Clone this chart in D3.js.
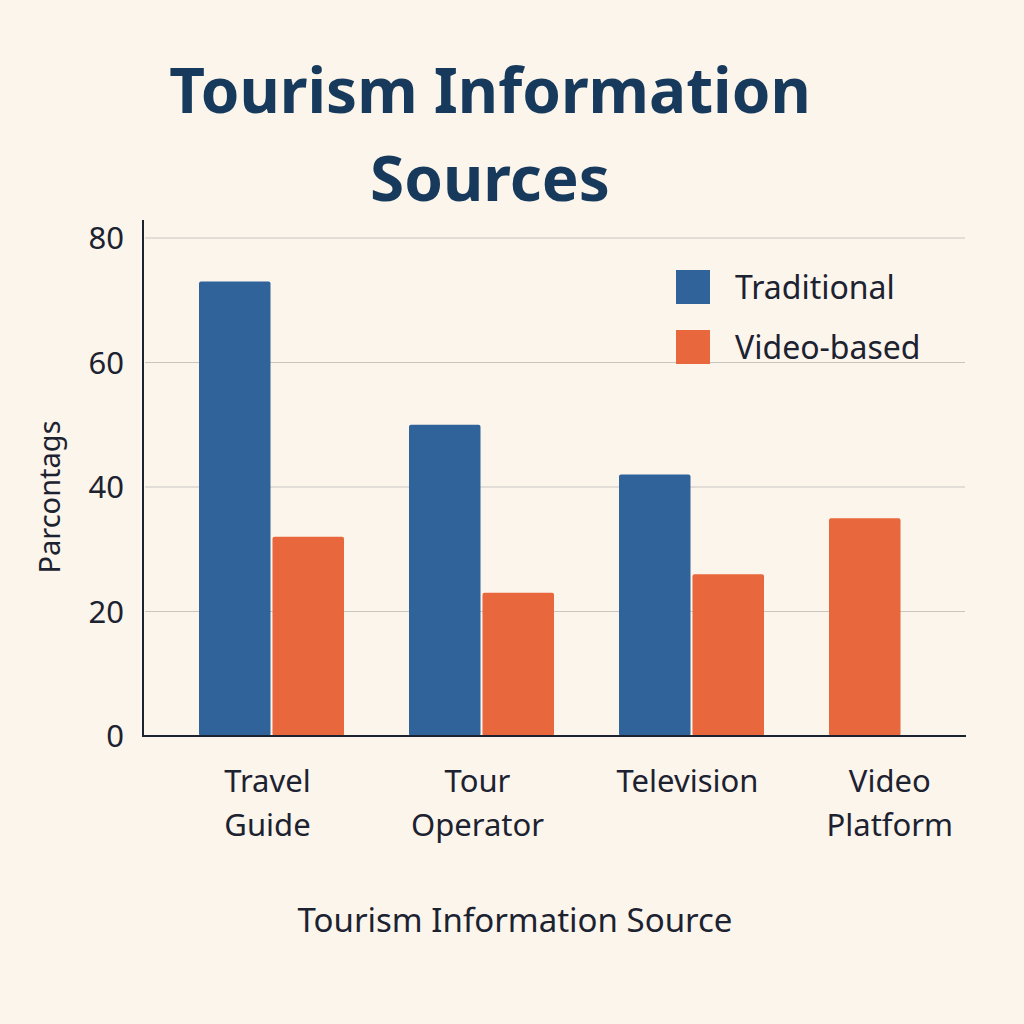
<!DOCTYPE html>
<html><head><meta charset="utf-8">
<script src="https://cdn.jsdelivr.net/npm/d3@7"></script>
<style>body{margin:0;background:#fbf5ec}</style>
</head><body>
<svg id="c" width="1024" height="1024"></svg>
<script>
var categories = [["Travel", "Guide"], ["Tour", "Operator"], ["Television"], ["Video", "Platform"]];
var traditional = [73, 50, 42, null];
var videoBased = [32, 23, 26, 35];
var yTicks = [0, 20, 40, 60, 80];

var svg = d3.select("#c");
var font = "'Noto Sans', 'Open Sans', sans-serif";
svg.append("rect").attr("width", 1024).attr("height", 1024).attr("fill", "#fbf5ec");

var y = d3.scaleLinear().domain([0, 80]).range([736, 238]);
var x = d3.scaleBand().domain(d3.range(4)).range([166.5, 1006.5]).paddingInner(0.3).paddingOuter(0.15);
var sub = d3.scaleBand().domain([0, 1]).range([0, x.bandwidth()]);

// title
svg.selectAll(".t").data(["Tourism Information", "Sources"]).enter().append("text")
  .attr("x", 490).attr("y", function(d, i) { return 113 + i * 88; })
  .attr("text-anchor", "middle").attr("font-family", font).attr("font-weight", "bold")
  .attr("font-size", 62).attr("fill", "#173a5c").text(function(d) { return d; });

// grid
svg.selectAll(".g").data(yTicks.slice(1)).enter().append("line")
  .attr("x1", 145).attr("x2", 965).attr("y1", y).attr("y2", y)
  .attr("stroke", "#c9c6bf").attr("stroke-width", 1.2);

svg.selectAll(".yt").data(yTicks).enter().append("text")
  .attr("x", 124).attr("y", function(d) { return y(d) + 11; })
  .attr("text-anchor", "end").attr("font-family", font).attr("font-size", 31)
  .attr("fill", "#1c2230").text(function(d) { return d; });

// bars
function bar(vals, slot, color) {
  svg.selectAll(null).data(vals.map(function(v, i) { return {v: v, i: i}; }).filter(function(d) { return d.v != null; }))
    .enter().append("rect")
    .attr("x", function(d) {
      var s = (slot == 1 && traditional[d.i] == null) ? 0 : slot;
      return x(d.i) + sub(s) + 1;
    })
    .attr("width", sub.bandwidth() - 2)
    .attr("y", function(d) { return y(d.v); })
    .attr("height", function(d) { return 736 - y(d.v); })
    .attr("rx", 2).attr("fill", color);
}
bar(traditional, 0, "#2f6399");
bar(videoBased, 1, "#e8673c");

// axes lines
svg.append("line").attr("x1", 143).attr("x2", 143).attr("y1", 220).attr("y2", 737)
  .attr("stroke", "#1c2230").attr("stroke-width", 2);
svg.append("line").attr("x1", 143).attr("x2", 966).attr("y1", 736).attr("y2", 736)
  .attr("stroke", "#1c2230").attr("stroke-width", 2);

// x labels
var xl = svg.selectAll(".xl").data(categories).enter().append("text")
  .attr("text-anchor", "middle").attr("font-family", font).attr("font-size", 31).attr("fill", "#1c2230")
  .attr("transform", function(d, i) {
    var cx = traditional[i] == null ? x(i) + sub.bandwidth() / 2 + 25 : x(i) + x.bandwidth() / 2 - 4;
    return "translate(" + cx + ",792)";
  });
xl.selectAll("tspan").data(function(d) { return d; }).enter().append("tspan")
  .attr("x", 0).attr("dy", function(d, i) { return i ? 44 : 0; }).text(function(d) { return d; });

svg.append("text").attr("x", 515).attr("y", 932).attr("text-anchor", "middle")
  .attr("font-family", font).attr("font-size", 33).attr("fill", "#1c2230").text("Tourism Information Source");
svg.append("text").attr("transform", "translate(60,497) rotate(-90)").attr("text-anchor", "middle")
  .attr("font-family", font).attr("font-size", 29).attr("fill", "#1c2230").text("Parcontags");

// legend
var leg = [["Traditional", "#2f6399"], ["Video-based", "#e8673c"]];
leg.forEach(function(l, i) {
  svg.append("rect").attr("x", 676).attr("y", 270 + i * 60).attr("width", 34).attr("height", 34).attr("fill", l[1]);
  svg.append("text").attr("x", 735).attr("y", 299 + i * 60).attr("font-family", font).attr("font-size", 32)
    .attr("fill", "#1c2230").text(l[0]);
});
</script>
</body></html>
